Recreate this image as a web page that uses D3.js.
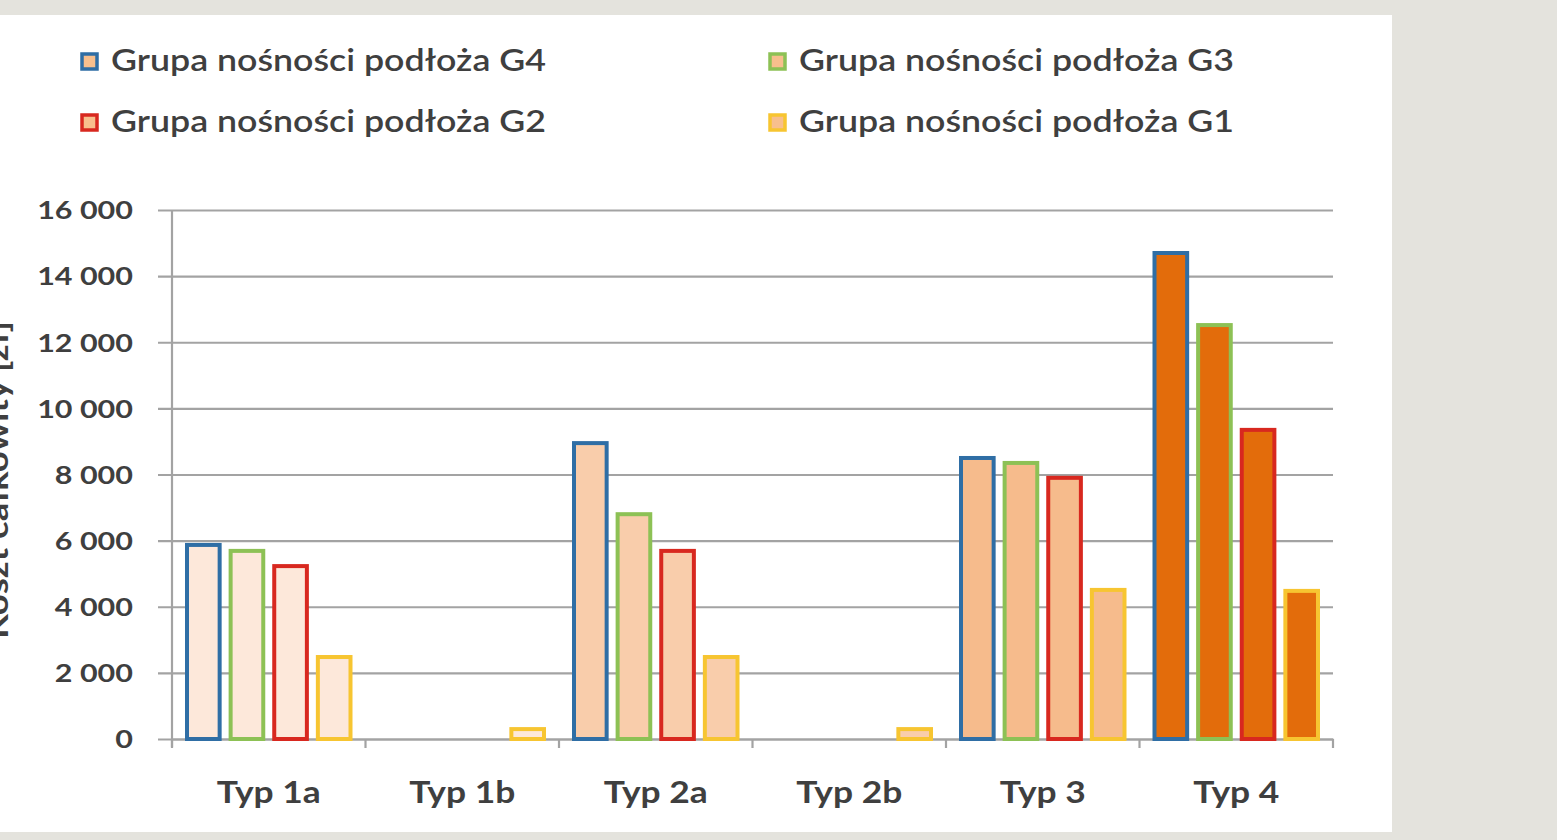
<!DOCTYPE html>
<html><head><meta charset="utf-8">
<script src="https://cdn.jsdelivr.net/npm/d3@7"></script>
<style>
html,body{margin:0;padding:0;background:#e4e3dd;}
svg{display:block;}
</style></head>
<body>
<svg id="chart" width="1557" height="840"></svg>
<script>
// ---- data ----
const categories = ["Typ 1a", "Typ 1b", "Typ 2a", "Typ 2b", "Typ 3", "Typ 4"];
const seriesNames = ["Grupa nośności podłoża G4", "Grupa nośności podłoża G3", "Grupa nośności podłoża G2", "Grupa nośności podłoża G1"];
const seriesKeys = ["G4", "G3", "G2", "G1"];
const valuesG4 = [5930, 0, 9010, 0, 8560, 14760];
const valuesG3 = [5750, 0, 6860, 0, 8410, 12580];
const valuesG2 = [5290, 0, 5750, 0, 7960, 9410];
const valuesG1 = [2540, 360, 2540, 360, 4570, 4540];
const yTicks = [0, 2000, 4000, 6000, 8000, 10000, 12000, 14000, 16000];
const yTickLabels = ["0", "2 000", "4 000", "6 000", "8 000", "10 000", "12 000", "14 000", "16 000"];
const yAxisTitle = "Koszt całkowity [zł]";

// ---- styles ----
const strokeColors = ["#2f6ea5", "#8dc155", "#d8281f", "#f7c531"];
const categoryFills = ["#fde8da", "#fde8da", "#f9cdab", "#f9cdab", "#f6bb8c", "#e36c0b"];
const legendFill = "#f8bf8d";
const textColor = "#3f3f3f";
const gridColor = "#a3a3a3";
const stretch = 1.22;

const svg = d3.select("#chart");
svg.append("rect").attr("x", 0).attr("y", 15).attr("width", 1392).attr("height", 817).attr("fill", "#ffffff");

const x0 = 172, x1 = 1333, yTop = 210, yBot = 739;
const x = d3.scaleBand().domain(categories).range([x0, x1]).paddingInner(0).paddingOuter(0);
const xs = d3.scaleBand().domain(seriesKeys).range([13, x.bandwidth() - 13]).paddingInner(0.16).paddingOuter(0);
const y = d3.scaleLinear().domain([0, 16000]).range([yBot, yTop]);

function stretchText(sel, f) {
  sel.each(function () {
    const w = this.getComputedTextLength();
    d3.select(this).attr("textLength", w * f).attr("lengthAdjust", "spacingAndGlyphs");
  });
}

// gridlines + y axis
const yAxis = d3.axisLeft(y).tickValues(yTicks).tickSize(x1 - x0 + 14).tickFormat((d, i) => yTickLabels[i]);
const gy = svg.append("g").attr("transform", `translate(${x1},0)`).call(yAxis);
gy.select(".domain").remove();
gy.selectAll(".tick line").attr("stroke", gridColor).attr("stroke-width", 2.2);
gy.selectAll(".tick text")
  .attr("x", -(x1 - x0) - 39)
  .attr("dy", "0.35em")
  .attr("fill", textColor)
  .style("font-family", "Lato, 'Open Sans', sans-serif")
  .style("font-size", "25px")
  .style("font-weight", "700")
  .call(stretchText, stretch);

// y axis line
svg.append("line").attr("x1", x0).attr("x2", x0).attr("y1", yTop).attr("y2", yBot + 8)
  .attr("stroke", gridColor).attr("stroke-width", 2.2);

// x axis
const xAxis = d3.axisBottom(x).tickSize(0).tickSizeOuter(0);
const gx = svg.append("g").attr("transform", `translate(0,${yBot})`).call(xAxis);
gx.select(".domain").attr("stroke", gridColor).attr("stroke-width", 2.2);
gx.selectAll(".tick text")
  .attr("y", 64)
  .attr("dy", 0)
  .attr("fill", textColor)
  .style("font-family", "Lato, 'Open Sans', sans-serif")
  .style("font-size", "30px")
  .style("font-weight", "700")
  .call(stretchText, 1.18);
// category boundary ticks
const bounds = categories.map(c => x(c)).concat([x1]);
svg.append("g").selectAll("line").data(bounds).join("line")
  .attr("x1", d => d).attr("x2", d => d).attr("y1", yBot).attr("y2", yBot + 9)
  .attr("stroke", gridColor).attr("stroke-width", 2.2);

// bars
const allSeries = [valuesG4, valuesG3, valuesG2, valuesG1];
const sw = 4;
const barData = [];
categories.forEach((c, ci) => {
  seriesKeys.forEach((k, si) => {
    const v = allSeries[si][ci];
    if (v > 0) barData.push({ c, ci, k, si, v });
  });
});
svg.append("g").selectAll("rect").data(barData).join("rect")
  .attr("x", d => x(d.c) + xs(d.k) + sw / 2)
  .attr("width", xs.bandwidth() - sw)
  .attr("y", d => y(d.v) + sw / 2)
  .attr("height", d => y(0) - y(d.v) - sw / 2)
  .attr("fill", d => categoryFills[d.ci])
  .attr("stroke", d => strokeColors[d.si])
  .attr("stroke-width", sw);

// legend
const legendPos = [[80, 52], [768, 52], [80, 113], [768, 113]];
const lg = svg.append("g").selectAll("g").data(seriesNames).join("g")
  .attr("transform", (d, i) => `translate(${legendPos[i][0]},${legendPos[i][1]})`);
lg.append("rect").attr("x", 2).attr("y", 2).attr("width", 15).attr("height", 15)
  .attr("fill", legendFill).attr("stroke", (d, i) => strokeColors[i]).attr("stroke-width", 3.5);
lg.append("text").attr("x", 31).attr("y", 19).text(d => d)
  .attr("fill", textColor)
  .style("font-family", "Lato, 'Open Sans', sans-serif")
  .style("font-size", "31px")
  .style("font-weight", "600")
  .attr("textLength", 435).attr("lengthAdjust", "spacingAndGlyphs");

// y axis title (partly outside the left edge, as in the source image)
svg.append("text")
  .attr("transform", "translate(8,480) rotate(-90)")
  .attr("text-anchor", "middle")
  .attr("fill", textColor)
  .style("font-family", "Lato, 'Open Sans', sans-serif")
  .style("font-size", "30px")
  .style("font-weight", "700")
  .attr("textLength", 318).attr("lengthAdjust", "spacingAndGlyphs")
  .text(yAxisTitle);
</script>
</body></html>
